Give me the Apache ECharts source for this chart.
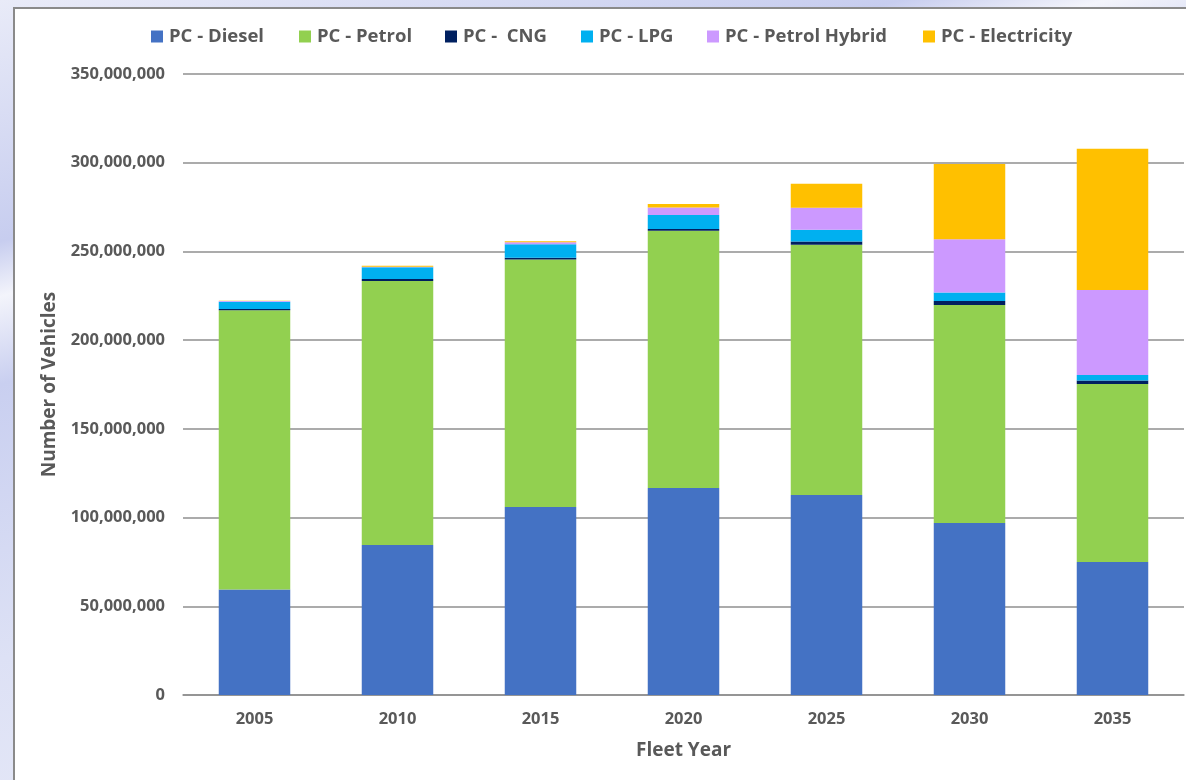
<!DOCTYPE html>
<html>
<head>
<meta charset="utf-8">
<script src="https://cdn.jsdelivr.net/npm/echarts@6/dist/echarts.min.js"></script>
<style>
  html, body { margin: 0; padding: 0; width: 1186px; height: 780px; overflow: hidden; }
  body { background: linear-gradient(165deg, #e9ebf8 0%, #c7cdef 22%, #f3f4fb 27%, #c9cff0 35%, #dde1f5 60%, #eef0fa 100%); position: relative; }
  #box { position: absolute; left: 13px; top: 7px; width: 1200px; height: 800px; background: #fff; border-left: 2px solid #8a8a8a; border-top: 2px solid #8a8a8a; }
  #chart { position: absolute; left: 0; top: 0; width: 1186px; height: 780px; }
</style>
</head>
<body>
<div id="box"></div>
<div id="chart"></div>
<script>
const categories = ['2005', '2010', '2015', '2020', '2025', '2030', '2035'];
const seriesNames = ['PC - Diesel', 'PC - Petrol', 'PC -  CNG', 'PC - LPG', 'PC - Petrol Hybrid', 'PC - Electricity'];
const diesel = [59500000, 84600000, 106000000, 116700000, 112700000, 97000000, 75000000];
const petrol = [157300000, 148800000, 139400000, 144900000, 141000000, 122800000, 100300000];
const cng = [700000, 1100000, 1000000, 1100000, 1900000, 2300000, 1900000];
const lpg = [4200000, 6600000, 7700000, 7900000, 6600000, 4700000, 3200000];
const hybrid = [400000, 300000, 1100000, 4100000, 12400000, 30100000, 47900000];
const electricity = [50000, 500000, 500000, 2100000, 13500000, 42400000, 79500000];
const yTicks = [0, 50000000, 100000000, 150000000, 200000000, 250000000, 300000000, 350000000];

const colors = ['#4472C4', '#92D050', '#002060', '#00B0F0', '#CC99FF', '#FFC000'];
const values = [diesel, petrol, cng, lpg, hybrid, electricity];
const legendLefts = [151, 299, 445, 581, 707, 923];
const FONT = 'Open Sans';
const TXT = '#595959';

const chart = echarts.init(document.getElementById('chart'), null, { renderer: 'canvas' });
chart.setOption({
  animation: false,
  color: colors,
  legend: seriesNames.map((n, i) => ({
    data: [n],
    left: legendLefts[i],
    top: 27,
    padding: 0,
    itemWidth: 12,
    itemHeight: 12,
    icon: 'rect',
    textStyle: { fontFamily: FONT, fontSize: 18.5, fontWeight: 'bold', color: TXT, padding: [0, 0, 0, 1] }
  })),
  grid: { left: 183, right: 2, top: 74, bottom: 85, containLabel: false },
  xAxis: {
    type: 'category',
    data: categories,
    name: 'Fleet Year',
    nameLocation: 'middle',
    nameGap: 46,
    nameTextStyle: { fontFamily: FONT, fontSize: 19, fontWeight: 'bold', color: TXT },
    axisLine: { show: true, lineStyle: { color: '#8f8f8f', width: 1.5 } },
    axisTick: { show: false },
    axisLabel: { fontFamily: FONT, fontSize: 16.5, fontWeight: 'bold', color: TXT, margin: 16 }
  },
  yAxis: {
    type: 'value',
    min: yTicks[0],
    max: yTicks[yTicks.length - 1],
    interval: yTicks[1] - yTicks[0],
    name: 'Number of Vehicles',
    nameLocation: 'middle',
    nameGap: 124,
    nameTextStyle: { fontFamily: FONT, fontSize: 19, fontWeight: 'bold', color: TXT },
    axisLine: { show: false },
    axisTick: { show: false },
    splitLine: { lineStyle: { color: '#8f8f8f', width: 1.5 } },
    axisLabel: {
      fontFamily: FONT, fontSize: 16.5, fontWeight: 'bold', color: TXT, margin: 18,
      formatter: v => v.toLocaleString('en-US')
    }
  },
  series: seriesNames.map((n, i) => ({
    name: n,
    type: 'bar',
    stack: 'total',
    barWidth: '50%',
    data: values[i],
    itemStyle: { color: colors[i] }
  }))
});
</script>
</body>
</html>
